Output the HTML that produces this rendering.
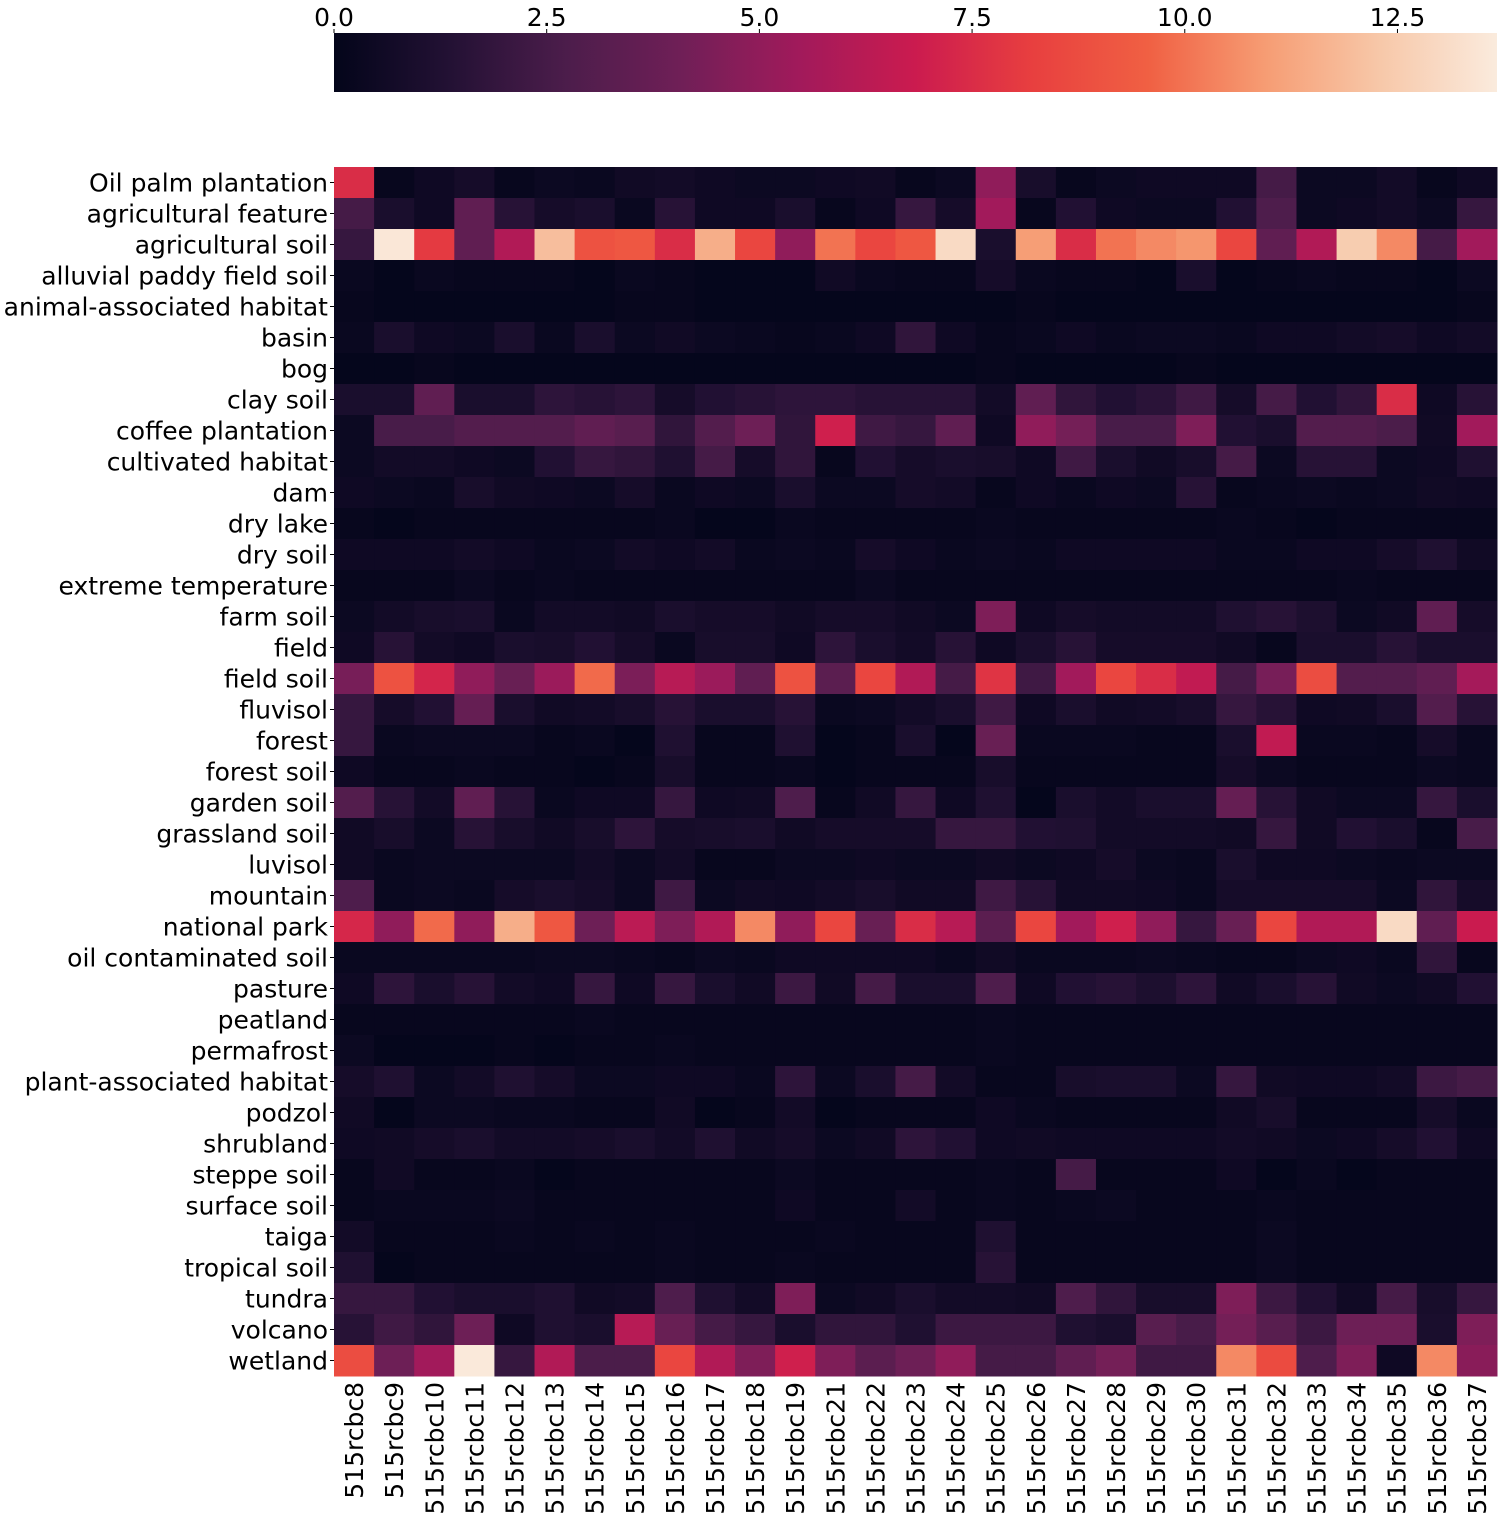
<!DOCTYPE html>
<html><head><meta charset="utf-8"><style>
html,body{margin:0;padding:0;background:#fff;}
svg{display:block;font-family:"DejaVu Sans","Liberation Sans",sans-serif;}
</style></head><body>
<svg id="chart" width="1505" height="1518"></svg>
<script>
const rows=["Oil palm plantation","agricultural feature","agricultural soil","alluvial paddy field soil","animal-associated habitat","basin","bog","clay soil","coffee plantation","cultivated habitat","dam","dry lake","dry soil","extreme temperature","farm soil","field","field soil","fluvisol","forest","forest soil","garden soil","grassland soil","luvisol","mountain","national park","oil contaminated soil","pasture","peatland","permafrost","plant-associated habitat","podzol","shrubland","steppe soil","surface soil","taiga","tropical soil","tundra","volcano","wetland"];
const cols=["515rcbc8","515rcbc9","515rcbc10","515rcbc11","515rcbc12","515rcbc13","515rcbc14","515rcbc15","515rcbc16","515rcbc17","515rcbc18","515rcbc19","515rcbc21","515rcbc22","515rcbc23","515rcbc24","515rcbc25","515rcbc26","515rcbc27","515rcbc28","515rcbc29","515rcbc30","515rcbc31","515rcbc32","515rcbc33","515rcbc34","515rcbc35","515rcbc36","515rcbc37"];
const cbTicks=[0,2.5,5,7.5,10,12.5];
const vmax=13.67;
const values=[
[7.5,0.2,0.5,0.8,0.2,0.4,0.3,0.6,0.7,0.5,0.4,0.4,0.5,0.6,0.2,0.4,5,0.9,0.2,0.4,0.5,0.5,0.5,2.5,0.4,0.4,0.7,0.2,0.5],
[2.5,1,0.5,3.5,1.5,0.8,1,0.3,1.5,0.5,0.5,1,0.2,0.5,2,0.8,5.5,0.2,1.3,0.5,0.4,0.4,1.3,2.8,0.4,0.5,0.7,0.4,2],
[2,13.5,8,3.5,6,12,9,9.2,7.5,11.5,8.5,5,10,8.5,9.2,13,1,11,7.5,10,10.5,10.8,8.5,3.5,6,12.5,10.5,2.5,5.5],
[0.3,0.1,0.3,0.2,0.2,0.2,0.1,0.3,0.2,0.1,0.1,0.1,0.6,0.3,0.2,0.2,0.8,0.3,0.2,0.2,0.1,1,0.1,0.2,0.3,0.2,0.2,0.1,0.4],
[0.2,0.1,0.1,0.1,0.1,0.1,0.1,0.2,0.2,0.1,0.1,0.1,0.1,0.1,0.1,0.1,0.1,0.2,0.1,0.1,0.1,0.1,0.1,0.1,0.1,0.1,0.1,0.1,0.2],
[0.3,1,0.5,0.4,1,0.3,1,0.4,0.6,0.4,0.3,0.2,0.3,0.5,1.8,0.5,0.2,0.3,0.5,0.3,0.4,0.4,0.3,0.5,0.5,0.7,0.8,0.5,0.7],
[0.1,0.1,0.2,0.1,0.1,0.1,0.1,0.1,0.1,0.1,0.1,0.1,0.1,0.1,0.1,0.1,0.2,0.1,0.1,0.1,0.1,0.2,0.1,0.1,0.1,0.1,0.1,0.1,0.1],
[1,1,3.5,1,1,1.7,1.5,1.7,0.8,1.3,1.5,1.7,1.7,1.5,1.5,1.5,0.7,3.5,1.8,1.3,1.6,2.3,0.8,2.5,1.3,1.8,7.5,0.5,1.5],
[0.4,2.6,2.6,3,3,3,3.5,3.2,1.8,3,4,1.8,7,2.3,2,3.5,0.5,5,4.2,2.6,2.6,4.5,1.3,1,3,3,2.7,0.6,5.5],
[0.4,0.7,0.7,0.5,0.4,1.3,2,1.8,1.2,2.5,0.8,1.8,0.2,1.3,0.8,1,0.9,0.5,2.3,1,0.6,0.9,2.5,0.4,1.5,1.5,0.4,0.5,1.2],
[0.5,0.4,0.3,0.9,0.6,0.5,0.4,0.8,0.3,0.5,0.4,1,0.4,0.4,0.8,0.7,0.2,0.5,0.3,0.5,0.4,1.5,0.2,0.3,0.4,0.3,0.4,0.6,0.5],
[0.2,0.1,0.2,0.2,0.2,0.2,0.2,0.2,0.3,0.1,0.1,0.3,0.2,0.2,0.2,0.2,0.3,0.2,0.2,0.2,0.2,0.2,0.3,0.2,0.1,0.2,0.2,0.2,0.2],
[0.5,0.5,0.5,0.7,0.5,0.3,0.4,0.7,0.5,0.7,0.3,0.4,0.3,0.8,0.5,0.3,0.4,0.3,0.5,0.5,0.5,0.5,0.3,0.3,0.5,0.5,0.8,1.2,0.6],
[0.2,0.2,0.2,0.4,0.2,0.3,0.2,0.2,0.2,0.2,0.2,0.2,0.2,0.4,0.2,0.2,0.2,0.2,0.2,0.2,0.2,0.2,0.2,0.2,0.2,0.3,0.2,0.2,0.2],
[0.4,0.7,0.9,1,0.3,0.7,0.7,0.6,1,0.8,0.8,0.6,0.8,0.8,0.6,0.4,4.5,0.5,0.8,0.7,0.7,0.7,1.2,1.5,1.1,0.4,0.6,3.5,0.8],
[0.5,1.5,0.7,0.5,1,0.9,1.3,0.8,0.3,0.9,0.9,0.5,1.7,1,0.7,1.5,0.5,1,1.5,0.8,0.8,0.8,0.6,0.2,1,1,1.5,1,1],
[4.3,9,7.2,5,3.8,5.3,9.8,4.4,6.2,5.3,3.5,9,3.3,8.5,6,2.5,7.8,2.3,5.5,8.5,7.5,6.5,2.5,4.3,8.8,3,3,3.5,5.6],
[2,0.8,1.3,3.7,1,0.6,0.7,0.9,1.5,1,1,1.5,0.3,0.4,0.7,1,2.3,0.5,1,0.6,0.7,0.9,2,1.5,0.5,0.6,1,3,1.5],
[2,0.3,0.4,0.4,0.4,0.2,0.3,0.1,1.2,0.2,0.2,1.2,0.1,0.2,1,0.1,3.8,0.3,0.3,0.3,0.2,0.2,1,6.5,0.3,0.3,0.2,0.8,0.3],
[0.5,0.2,0.2,0.3,0.2,0.2,0.1,0.2,0.9,0.2,0.2,0.3,0.1,0.2,0.2,0.2,0.9,0.2,0.2,0.2,0.2,0.2,0.8,0.4,0.2,0.2,0.2,0.4,0.3],
[3,1.5,0.7,3.5,1.5,0.3,0.5,0.5,2,0.5,0.6,2.8,0.2,0.6,2,0.5,1.2,0.1,1,0.7,1,1,3.7,1.5,0.6,0.4,0.4,2,1],
[0.6,0.9,0.4,1.5,0.9,0.6,0.9,1.7,0.8,0.9,1,0.6,0.8,0.8,0.8,2,2,1.3,1.2,0.7,0.7,0.7,0.6,2,0.6,1.3,1,0.2,2.6],
[0.6,0.3,0.4,0.4,0.4,0.4,0.7,0.4,0.7,0.2,0.2,0.4,0.4,0.5,0.4,0.4,0.6,0.4,0.5,0.8,0.4,0.3,1,0.5,0.5,0.4,0.3,0.4,0.4],
[2.8,0.3,0.4,0.3,0.8,1,0.8,0.4,2.3,0.4,0.6,0.5,0.7,0.9,0.6,0.6,2.3,1.5,0.6,0.6,0.5,0.3,0.8,0.8,0.8,0.8,0.4,1.8,0.8],
[7.3,5,9.8,5,11.5,9.2,4,6.3,4.5,6,10.5,5,8.5,3.8,7.5,6.2,3.3,8.5,5.5,7,5,2,3.8,8.5,6,6,13,3.5,6.8],
[0.3,0.3,0.3,0.3,0.3,0.4,0.4,0.3,0.2,0.4,0.3,0.5,0.5,0.5,0.5,0.3,0.6,0.3,0.3,0.3,0.4,0.3,0.2,0.2,0.4,0.5,0.3,1.8,0.2],
[0.5,1.7,1,1.5,0.7,0.5,2,0.5,2,1,0.6,2.2,0.6,2.5,1,1,2.8,0.5,1.3,1.5,1.1,1.7,0.6,1,1.5,0.6,0.4,0.6,1.3],
[0.2,0.2,0.2,0.2,0.2,0.2,0.3,0.2,0.2,0.2,0.2,0.2,0.2,0.2,0.2,0.2,0.3,0.2,0.2,0.2,0.2,0.2,0.2,0.2,0.2,0.2,0.2,0.2,0.2],
[0.4,0.1,0.1,0.1,0.2,0.1,0.2,0.2,0.3,0.2,0.2,0.2,0.2,0.2,0.2,0.2,0.3,0.2,0.2,0.2,0.2,0.2,0.2,0.2,0.2,0.2,0.2,0.2,0.2],
[0.8,1.2,0.4,0.7,1.2,0.8,0.4,0.4,0.5,0.5,0.3,1.7,0.4,1,2.5,0.7,0.2,0.2,0.9,1,1,0.4,2,0.6,0.5,0.5,0.7,2.2,2.5],
[0.6,0.1,0.4,0.4,0.3,0.3,0.2,0.2,0.6,0.1,0.2,0.7,0.1,0.2,0.2,0.2,0.5,0.3,0.2,0.2,0.2,0.2,0.6,0.9,0.2,0.2,0.2,0.8,0.3],
[0.5,0.6,0.8,1,0.7,0.7,0.8,1,0.7,1.2,0.6,0.8,0.4,0.6,1.7,1.3,0.5,0.6,0.5,0.5,0.5,0.5,0.7,0.6,0.4,0.5,0.8,1.3,0.5],
[0.2,0.6,0.2,0.2,0.3,0.1,0.2,0.2,0.2,0.2,0.2,0.4,0.2,0.2,0.2,0.2,0.3,0.2,2.5,0.2,0.2,0.2,0.5,0.1,0.3,0.1,0.2,0.2,0.2],
[0.2,0.3,0.3,0.3,0.4,0.2,0.2,0.2,0.2,0.2,0.2,0.5,0.2,0.2,0.7,0.2,0.3,0.2,0.3,0.4,0.2,0.2,0.2,0.3,0.2,0.2,0.2,0.2,0.2],
[0.7,0.2,0.2,0.2,0.3,0.2,0.3,0.2,0.3,0.2,0.2,0.2,0.3,0.2,0.2,0.2,1.2,0.2,0.2,0.2,0.2,0.2,0.2,0.4,0.2,0.2,0.2,0.2,0.2],
[1.2,0.1,0.2,0.2,0.2,0.2,0.2,0.2,0.3,0.2,0.2,0.3,0.2,0.2,0.2,0.2,1.5,0.2,0.2,0.2,0.2,0.2,0.2,0.4,0.2,0.2,0.2,0.2,0.2],
[2,2,1.3,1,1,1.2,0.6,0.7,2.8,1.2,0.7,4.5,0.4,0.6,1,0.7,0.7,0.6,2.8,1.8,0.9,0.9,4.5,2.2,1.3,0.6,2.5,0.9,2],
[1.5,2.3,1.8,4,0.5,1.2,1,6.2,3.8,2.5,2,1,1.8,1.8,1.2,2.2,2.2,2.2,1.2,1,3.2,2.6,4.2,3.2,2.2,4,4,1,4.5],
[8.8,4,5.5,13.6,2,6,2.7,2.7,8.5,6,4.5,7,4.5,3.3,4,5,2.5,2.5,3.5,4.2,2.3,2.3,10.5,8.7,2.8,4.5,0.5,10.5,4.8]
];
const stops=[[0,[3,5,26]],[0.1,[35,17,52]],[0.2,[76,29,75]],[0.3,[112,31,87]],[0.4,[161,26,91]],[0.5,[203,27,79]],[0.6,[232,63,63]],[0.7,[240,96,67]],[0.8,[246,156,115]],[0.9,[247,200,169]],[1,[250,235,221]]];
function cmap(t){t=Math.max(0,Math.min(1,t));for(let i=1;i<stops.length;i++){if(t<=stops[i][0]){const a=stops[i-1],b=stops[i];const f=(t-a[0])/(b[0]-a[0]);const c=a[1].map((v,k)=>Math.round(v+(b[1][k]-v)*f));return `rgb(${c[0]},${c[1]},${c[2]})`;}}return "rgb(250,235,221)";}
const NS="http://www.w3.org/2000/svg";
const svg=document.getElementById('chart');
function el(tag,attrs,parent){const e=document.createElementNS(NS,tag);for(const k in attrs)e.setAttribute(k,attrs[k]);(parent||svg).appendChild(e);return e;}
const X0=334,X1=1497,Y0=167,Y1=1376;
const cw=(X1-X0)/cols.length,ch=(Y1-Y0)/rows.length;
const xPos=i=>X0+i*cw, yPos=j=>Y0+j*ch;
const cells=el('g',{});


values.forEach((row,j)=>row.forEach((v,i)=>{
  const r=el('rect',{x:xPos(i),y:yPos(j),width:cw+0.5,height:ch+0.5,fill:cmap(v/vmax)},cells);
  
  
}));
rows.forEach((n,j)=>{
  const t=el('text',{x:X0-6,y:yPos(j)+ch/2+9,'text-anchor':'end','font-size':25,fill:'#000'});
  t.textContent=n;
  
  
  el('line',{x1:X0-4,x2:X0,y1:yPos(j)+ch/2,y2:yPos(j)+ch/2,stroke:'#000'});
});
cols.forEach((n,i)=>{
  const cx=xPos(i)+cw/2;
  const t=el('text',{x:0,y:0,'text-anchor':'end','font-size':25,fill:'#000',transform:`translate(${cx+9},${Y1+6}) rotate(-90)`});
  t.textContent=n;
  
  
});
const defs=el('defs',{});
const grad=el('linearGradient',{id:'cb',x1:0,x2:1,y1:0,y2:0},defs);
for(let k=0;k<=20;k++){el('stop',{offset:k/20,'stop-color':cmap(k/20)},grad);}
const cb=el('rect',{x:X0,y:33,width:X1-X0,height:59,fill:'url(#cb)'});


cbTicks.forEach(v=>{
  const x=X0+v/vmax*(X1-X0);
  el('line',{x1:x,x2:x,y1:29,y2:33,stroke:'#000'});
  const t=el('text',{x:x,y:26,'text-anchor':'middle','font-size':25,fill:'#000'});
  t.textContent=v.toFixed(1);
  
  
});
</script>
</body></html>
